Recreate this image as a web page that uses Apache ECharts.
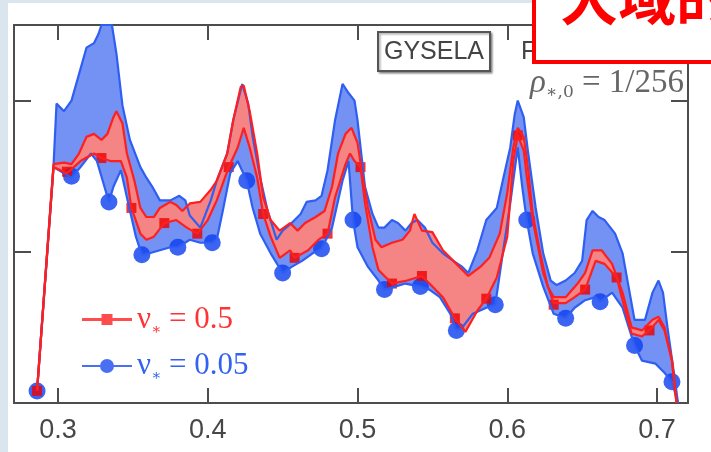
<!DOCTYPE html>
<html>
<head>
<meta charset="utf-8">
<script src="https://cdn.jsdelivr.net/npm/echarts@6/dist/echarts.min.js"></script>
<style>
  html, body { margin: 0; padding: 0; background: #fff; }
  #main { width: 711px; height: 452px; }
</style>
</head>
<body>
<div id="main"></div>
<script>
// x ticks on the radius axis
var xTicks = [0.3, 0.4, 0.5, 0.6, 0.7];

// nu* = 0.05 (blue band)
var blueUpper = [
  [0.286, 0.08], [0.297, 1.57], [0.299, 1.98], [0.304, 1.93], [0.309, 2.00], [0.319, 2.35],
  [0.324, 2.38], [0.327, 2.44], [0.329, 2.50], [0.336, 2.50], [0.339, 2.31], [0.343, 1.97],
  [0.348, 1.74], [0.355, 1.56], [0.359, 1.49], [0.363, 1.43], [0.368, 1.34], [0.375, 1.34],
  [0.381, 1.37], [0.385, 1.34], [0.388, 1.24], [0.395, 1.16], [0.402, 1.34], [0.406, 1.47],
  [0.413, 1.65], [0.417, 1.87], [0.423, 2.11], [0.427, 1.98], [0.430, 1.76], [0.435, 1.49],
  [0.440, 1.27], [0.446, 1.08], [0.450, 1.14], [0.456, 1.19], [0.462, 1.25], [0.466, 1.33],
  [0.472, 1.34], [0.476, 1.37], [0.480, 1.54], [0.485, 1.87], [0.490, 2.11], [0.494, 2.05],
  [0.498, 2.00], [0.500, 1.87], [0.505, 1.43], [0.510, 1.25], [0.514, 1.16], [0.518, 1.16],
  [0.523, 1.21], [0.527, 1.19], [0.532, 1.14], [0.536, 1.19], [0.540, 1.21], [0.545, 1.16],
  [0.550, 1.06], [0.557, 0.99], [0.564, 0.94], [0.570, 0.90], [0.574, 0.86], [0.580, 1.01],
  [0.586, 1.21], [0.593, 1.29], [0.597, 1.47], [0.602, 1.69], [0.605, 1.91], [0.607, 2.00],
  [0.611, 1.89], [0.614, 1.65], [0.619, 1.29], [0.624, 0.99], [0.629, 0.81], [0.633, 0.78],
  [0.639, 0.81], [0.645, 0.86], [0.650, 0.94], [0.653, 1.21], [0.657, 1.27], [0.661, 1.23],
  [0.665, 1.21], [0.672, 1.12], [0.677, 0.99], [0.681, 0.77], [0.685, 0.55], [0.692, 0.55],
  [0.697, 0.73], [0.701, 0.81], [0.704, 0.73], [0.707, 0.50], [0.712, 0.15], [0.714, 0.00]
];
var blueLower = [
  [0.286, 0.08], [0.297, 1.56], [0.304, 1.52], [0.309, 1.49], [0.315, 1.56], [0.322, 1.65],
  [0.326, 1.60], [0.331, 1.43], [0.334, 1.33], [0.337, 1.43], [0.342, 1.54], [0.346, 1.36],
  [0.352, 1.10], [0.356, 0.98], [0.361, 0.99], [0.368, 1.01], [0.375, 1.03], [0.380, 1.03],
  [0.388, 1.08], [0.395, 1.06], [0.403, 1.06], [0.406, 1.08], [0.410, 1.27], [0.415, 1.52],
  [0.420, 1.60], [0.426, 1.47], [0.430, 1.29], [0.435, 1.12], [0.442, 0.99], [0.450, 0.86],
  [0.456, 0.90], [0.463, 0.94], [0.470, 0.99], [0.476, 1.02], [0.483, 1.16], [0.490, 1.47],
  [0.494, 1.60], [0.497, 1.21], [0.500, 1.03], [0.507, 0.90], [0.514, 0.81], [0.518, 0.75],
  [0.525, 0.77], [0.532, 0.79], [0.542, 0.77], [0.548, 0.75], [0.555, 0.70], [0.562, 0.59],
  [0.566, 0.48], [0.570, 0.50], [0.577, 0.59], [0.586, 0.63], [0.592, 0.65], [0.597, 0.99],
  [0.602, 1.32], [0.607, 1.69], [0.610, 1.43], [0.613, 1.21], [0.617, 0.99], [0.624, 0.77],
  [0.631, 0.59], [0.639, 0.56], [0.645, 0.63], [0.652, 0.68], [0.659, 0.70], [0.662, 0.67],
  [0.670, 0.73], [0.677, 0.63], [0.685, 0.38], [0.690, 0.28], [0.699, 0.26], [0.705, 0.20],
  [0.710, 0.14], [0.714, 0.00]
];
var blueMarks = [
  [0.286, 0.08], [0.309, 1.50], [0.334, 1.33], [0.356, 0.98], [0.380, 1.03], [0.403, 1.06],
  [0.426, 1.47], [0.450, 0.86], [0.476, 1.02], [0.497, 1.21], [0.518, 0.75], [0.542, 0.77],
  [0.566, 0.48], [0.592, 0.65], [0.613, 1.21], [0.639, 0.56], [0.662, 0.67], [0.685, 0.38],
  [0.710, 0.14]
];

// nu* = 0.5 (red band)
var redUpper = [
  [0.286, 0.08], [0.297, 1.58], [0.304, 1.59], [0.309, 1.58], [0.314, 1.65], [0.319, 1.76],
  [0.324, 1.78], [0.329, 1.74], [0.333, 1.78], [0.337, 1.89], [0.339, 1.93], [0.343, 1.85],
  [0.346, 1.65], [0.351, 1.47], [0.355, 1.29], [0.359, 1.23], [0.364, 1.23], [0.368, 1.29],
  [0.375, 1.33], [0.379, 1.31], [0.383, 1.27], [0.388, 1.32], [0.395, 1.33], [0.402, 1.41],
  [0.406, 1.47], [0.413, 1.65], [0.417, 1.87], [0.422, 2.09], [0.424, 2.10], [0.428, 1.93],
  [0.433, 1.65], [0.437, 1.36], [0.442, 1.21], [0.448, 1.14], [0.455, 1.19], [0.460, 1.14],
  [0.465, 1.19], [0.472, 1.23], [0.478, 1.27], [0.483, 1.43], [0.487, 1.65], [0.492, 1.78],
  [0.496, 1.82], [0.500, 1.72], [0.503, 1.52], [0.507, 1.29], [0.512, 1.08], [0.516, 1.03],
  [0.523, 1.06], [0.530, 1.08], [0.535, 1.14], [0.538, 1.25], [0.543, 1.14], [0.550, 1.13],
  [0.557, 1.01], [0.564, 0.94], [0.574, 0.84], [0.582, 0.90], [0.588, 0.96], [0.595, 1.12],
  [0.600, 1.39], [0.604, 1.69], [0.607, 1.82], [0.611, 1.76], [0.614, 1.54], [0.617, 1.25],
  [0.622, 0.99], [0.627, 0.77], [0.631, 0.70], [0.639, 0.70], [0.647, 0.79], [0.652, 0.86],
  [0.657, 1.01], [0.663, 1.01], [0.670, 0.92], [0.677, 0.73], [0.683, 0.50], [0.690, 0.48],
  [0.697, 0.55], [0.701, 0.57], [0.705, 0.50], [0.710, 0.28], [0.713, 0.00]
];
var redLower = [
  [0.286, 0.08], [0.297, 1.56], [0.306, 1.52], [0.315, 1.60], [0.324, 1.65], [0.329, 1.62],
  [0.335, 1.60], [0.342, 1.60], [0.346, 1.49], [0.349, 1.29], [0.355, 1.12], [0.359, 1.08],
  [0.364, 1.10], [0.371, 1.19], [0.379, 1.21], [0.386, 1.16], [0.393, 1.12], [0.400, 1.21],
  [0.406, 1.34], [0.414, 1.56], [0.420, 1.69], [0.424, 1.82], [0.428, 1.69], [0.433, 1.49],
  [0.437, 1.25], [0.442, 1.10], [0.448, 0.96], [0.455, 1.01], [0.458, 0.96], [0.467, 1.01],
  [0.474, 1.08], [0.480, 1.12], [0.485, 1.36], [0.492, 1.58], [0.495, 1.65], [0.498, 1.60],
  [0.502, 1.56], [0.505, 1.32], [0.510, 1.03], [0.514, 0.88], [0.523, 0.79], [0.533, 0.81],
  [0.543, 0.84], [0.550, 0.77], [0.557, 0.70], [0.565, 0.56], [0.572, 0.47], [0.580, 0.61],
  [0.586, 0.69], [0.593, 0.83], [0.600, 1.10], [0.604, 1.60], [0.607, 1.77], [0.611, 1.67],
  [0.613, 1.50], [0.617, 1.21], [0.624, 0.86], [0.631, 0.66], [0.639, 0.66], [0.645, 0.70],
  [0.652, 0.75], [0.659, 0.94], [0.665, 0.92], [0.673, 0.83], [0.677, 0.68], [0.683, 0.46],
  [0.690, 0.44], [0.695, 0.48], [0.701, 0.55], [0.705, 0.48], [0.710, 0.28], [0.713, 0.00]
];
var redMarks = [
  [0.286, 0.08], [0.306, 1.53], [0.329, 1.62], [0.349, 1.29], [0.371, 1.19], [0.393, 1.12],
  [0.414, 1.56], [0.437, 1.25], [0.458, 0.96], [0.480, 1.12], [0.502, 1.56], [0.523, 0.79],
  [0.543, 0.84], [0.565, 0.56], [0.586, 0.69], [0.607, 1.77], [0.631, 0.65], [0.652, 0.75],
  [0.673, 0.83], [0.695, 0.48]
];

var AXIS_COLOR = '#4d4d4d';
var BLUE_FILL = '#7392f3', BLUE_LINE = '#2f5ff2', BLUE_DOT = '#0b3df0';
var RED_FILL = '#f58585', RED_LINE = '#ff1f1f', RED_DOT = '#ee0000';

var chart = echarts.init(document.getElementById('main'));

// band between two boundary curves, drawn as one polygon in data coords
function band(name, upper, lower, fill) {
  return {
    name: name,
    type: 'custom',
    coordinateSystem: 'cartesian2d',
    silent: true,
    data: [upper[0]],
    renderItem: function (params, api) {
      var pts = upper.concat(lower.slice().reverse()).map(function (p) {
        return api.coord(p);
      });
      return { type: 'polygon', shape: { points: pts }, style: { fill: fill, stroke: null } };
    }
  };
}

function edge(name, data, color) {
  return {
    name: name,
    type: 'line',
    data: data,
    symbol: 'none',
    silent: true,
    lineStyle: { color: color, width: 2.2 }
  };
}

function xAxisCfg(pos) {
  return {
    type: 'value',
    position: pos,
    min: 0.2706,
    max: 0.7207,
    axisLine: { onZero: false, lineStyle: { color: AXIS_COLOR, width: 2 } },
    axisTick: { inside: true, length: 15, customValues: xTicks, lineStyle: { color: AXIS_COLOR, width: 2 } },
    axisLabel: {
      show: pos === 'bottom',
      customValues: xTicks,
      fontSize: 27,
      color: '#474747',
      fontFamily: 'Liberation Sans',
      margin: 14,
      formatter: function (v) { return v.toFixed(1); }
    },
    splitLine: { show: false }
  };
}

function yAxisCfg(pos) {
  return {
    type: 'value',
    position: pos,
    min: 0,
    max: 2.5,
    interval: 1,
    axisLine: { onZero: false, lineStyle: { color: AXIS_COLOR, width: 2 } },
    axisTick: { inside: true, length: 17, lineStyle: { color: AXIS_COLOR, width: 2 } },
    axisLabel: { show: false },
    splitLine: { show: false }
  };
}

var option = {
  animation: false,
  backgroundColor: '#ffffff',
  grid: { left: 14, right: 23, top: 25, bottom: 49 },
  xAxis: [xAxisCfg('bottom'), xAxisCfg('top')],
  yAxis: [yAxisCfg('left'), yAxisCfg('right')],
  legend: {
    orient: 'vertical',
    left: 77,
    top: 299,
    itemWidth: 50,
    itemHeight: 14,
    itemGap: 13,
    selectedMode: false,
    data: [
      { name: 'nu05', icon: 'path://M0,4H50V7H0Z M19.5,0H30.5V11H19.5Z', itemStyle: { color: RED_LINE } },
      { name: 'nu005', icon: 'path://M0,6H50V8H0Z M32,7A7,7 0 1,1 18,7A7,7 0 1,1 32,7Z', itemStyle: { color: '#1c4cf0' } }
    ],
    formatter: function (name) {
      return name === 'nu05'
        ? '{rv|ν}{rs|∗}{rv| = 0.5}'
        : '{bv|ν}{bs|∗}{bv| = 0.05}';
    },
    textStyle: {
      rich: {
        rv: { fontSize: 31, lineHeight: 36, color: '#ff3333', fontFamily: 'Liberation Serif' },
        rs: { fontSize: 15, lineHeight: 15, color: '#ff3333', fontFamily: 'DejaVu Serif', verticalAlign: 'bottom' },
        bv: { fontSize: 31, lineHeight: 36, color: '#3462f0', fontFamily: 'Liberation Serif' },
        bs: { fontSize: 15, lineHeight: 15, color: '#3462f0', fontFamily: 'DejaVu Serif', verticalAlign: 'bottom' }
      }
    }
  },
  graphic: [
    { type: 'rect', z: 0, shape: { x: 0, y: 0, width: 8, height: 452 }, style: { fill: '#dbe5ee' } },
    { type: 'rect', z: 0, shape: { x: 0, y: 0, width: 711, height: 3 }, style: { fill: '#dbe5ee' } },
    {
      type: 'rect', z: 50,
      shape: { x: 378, y: 32, width: 112, height: 39 },
      style: { fill: '#fff', stroke: '#555', lineWidth: 2, shadowColor: 'rgba(0,0,0,0.35)', shadowOffsetX: 1.5, shadowOffsetY: 1.5, shadowBlur: 2 }
    },
    {
      type: 'text', z: 51, x: 434, y: 52,
      style: { text: 'GYSELA', fontSize: 25, fontFamily: 'Liberation Sans', fill: '#444', align: 'center', verticalAlign: 'middle' }
    },
    {
      type: 'text', z: 51, x: 521, y: 52,
      style: { text: 'F', fontSize: 25, fontFamily: 'Liberation Sans', fill: '#444', align: 'left', verticalAlign: 'middle' }
    },
    {
      type: 'text', z: 51, x: 684, y: 83,
      style: {
        text: '{r|ρ}{s|∗,0}{n| = 1/256}',
        align: 'right',
        verticalAlign: 'middle',
        rich: {
          r: { fontSize: 33, lineHeight: 36, fontStyle: 'italic', fontFamily: 'Liberation Serif', fill: '#666' },
          s: { fontSize: 17, lineHeight: 17, fontFamily: 'DejaVu Serif', fill: '#666', verticalAlign: 'bottom' },
          n: { fontSize: 33, lineHeight: 36, fontFamily: 'Liberation Serif', fill: '#666' }
        }
      }
    },
    {
      type: 'rect', z: 100,
      shape: { x: 534, y: -10, width: 200, height: 72 },
      style: { fill: '#fff', stroke: '#ff0000', lineWidth: 4 }
    },
    {
      type: 'text', z: 101, x: 560, y: -2,
      style: { text: '大域的', fontSize: 58, fontWeight: 'bold', fontFamily: 'Noto Sans CJK JP', fill: '#ff0000', align: 'left', verticalAlign: 'middle' }
    }
  ],
  series: [
    band('blueBand', blueUpper, blueLower, BLUE_FILL),
    edge('blueUp', blueUpper, BLUE_LINE),
    edge('blueLo', blueLower, BLUE_LINE),
    {
      name: 'nu005', type: 'scatter', data: blueMarks, symbol: 'circle', symbolSize: 17,
      itemStyle: { color: BLUE_DOT }, silent: true
    },
    band('redBand', redUpper, redLower, RED_FILL),
    edge('redUp', redUpper, RED_LINE),
    edge('redLo', redLower, RED_LINE),
    {
      name: 'nu05', type: 'scatter', data: redMarks, symbol: 'rect', symbolSize: 10,
      itemStyle: { color: RED_DOT }, silent: true
    }
  ]
};

chart.setOption(option);
</script>
</body>
</html>
